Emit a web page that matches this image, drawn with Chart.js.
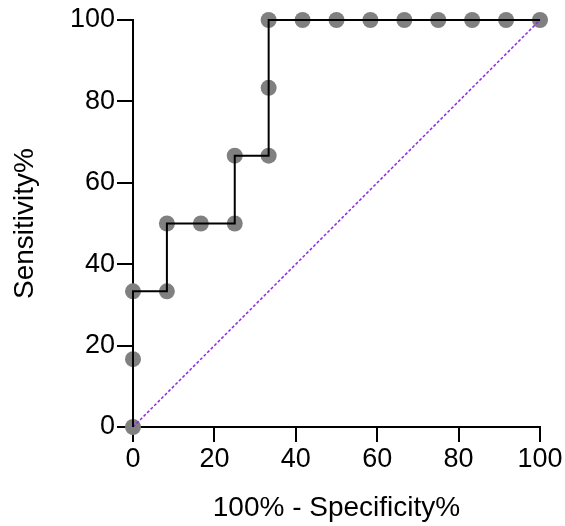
<!DOCTYPE html>
<html>
<head>
<meta charset="utf-8">
<script src="https://cdn.jsdelivr.net/npm/chart.js@4"></script>
<style>
  html, body { margin: 0; padding: 0; background: #fff; }
</style>
</head>
<body>
<canvas id="roc" width="565" height="526"></canvas>
<script>
// ROC curve points (100% - Specificity%, Sensitivity%)
const specX = [0, 0, 0, 8.33, 8.33, 16.67, 25, 25, 33.33, 33.33, 33.33, 41.67, 50, 58.33, 66.67, 75, 83.33, 91.67, 100];
const sensY = [0, 16.67, 33.33, 33.33, 50, 50, 50, 66.67, 66.67, 83.33, 100, 100, 100, 100, 100, 100, 100, 100, 100];
const refX = [0, 100];
const refY = [0, 100];
const tickValues = [0, 20, 40, 60, 80, 100];

const rocPts = specX.map((x, i) => ({ x: x, y: sensY[i] }));
const refPts = refX.map((x, i) => ({ x: x, y: refY[i] }));

const tickFont = { family: "Liberation Sans", size: 27 };
const titleFont = { family: "Liberation Sans", size: 28 };

const ctx = document.getElementById("roc").getContext("2d");
new Chart(ctx, {
  type: "scatter",
  data: {
    datasets: [
      {
        label: "ROC",
        data: rocPts,
        showLine: true,
        borderColor: "#000",
        borderWidth: 2,
        pointRadius: 0,
        clip: false,
        order: 1
      },
      {
        label: "points",
        data: rocPts,
        showLine: false,
        pointRadius: 8,
        pointBackgroundColor: "#808080",
        pointBorderWidth: 0,
        clip: false,
        order: 3
      },
      {
        label: "reference",
        data: refPts,
        showLine: true,
        borderColor: "#8a2be2",
        borderWidth: 1.5,
        borderDash: [3, 2],
        pointRadius: 0,
        clip: false,
        order: 2
      }
    ]
  },
  options: {
    responsive: false,
    animation: false,
    layout: { padding: { top: 20, right: 25, left: 0, bottom: 0 } },
    plugins: { legend: { display: false }, tooltip: { enabled: false } },
    scales: {
      x: {
        type: "linear",
        min: 0, max: 100,
        afterBuildTicks: (axis) => { axis.ticks = tickValues.map(v => ({ value: v })); },
        afterFit: (axis) => { axis.height = 99; },
        border: { color: "#000", width: 2 },
        grid: { drawOnChartArea: false, drawTicks: true, tickLength: 15, color: "#000", lineWidth: 2 },
        ticks: { color: "#000", font: tickFont, padding: 1, maxRotation: 0 },
        title: { display: true, text: "100% - Specificity%", color: "#000", font: titleFont, padding: { top: 0, bottom: 1 } }
      },
      y: {
        type: "linear",
        min: 0, max: 100,
        afterBuildTicks: (axis) => { axis.ticks = tickValues.map(v => ({ value: v })); },
        afterFit: (axis) => { axis.width = 133; },
        border: { color: "#000", width: 2 },
        grid: { drawOnChartArea: false, drawTicks: true, tickLength: 16, color: "#000", lineWidth: 2 },
        ticks: { color: "#000", font: tickFont, padding: 2 },
        title: { display: true, text: "Sensitivity%", color: "#000", font: titleFont, padding: { top: 8, bottom: 0 } }
      }
    }
  }
});
</script>
</body>
</html>
